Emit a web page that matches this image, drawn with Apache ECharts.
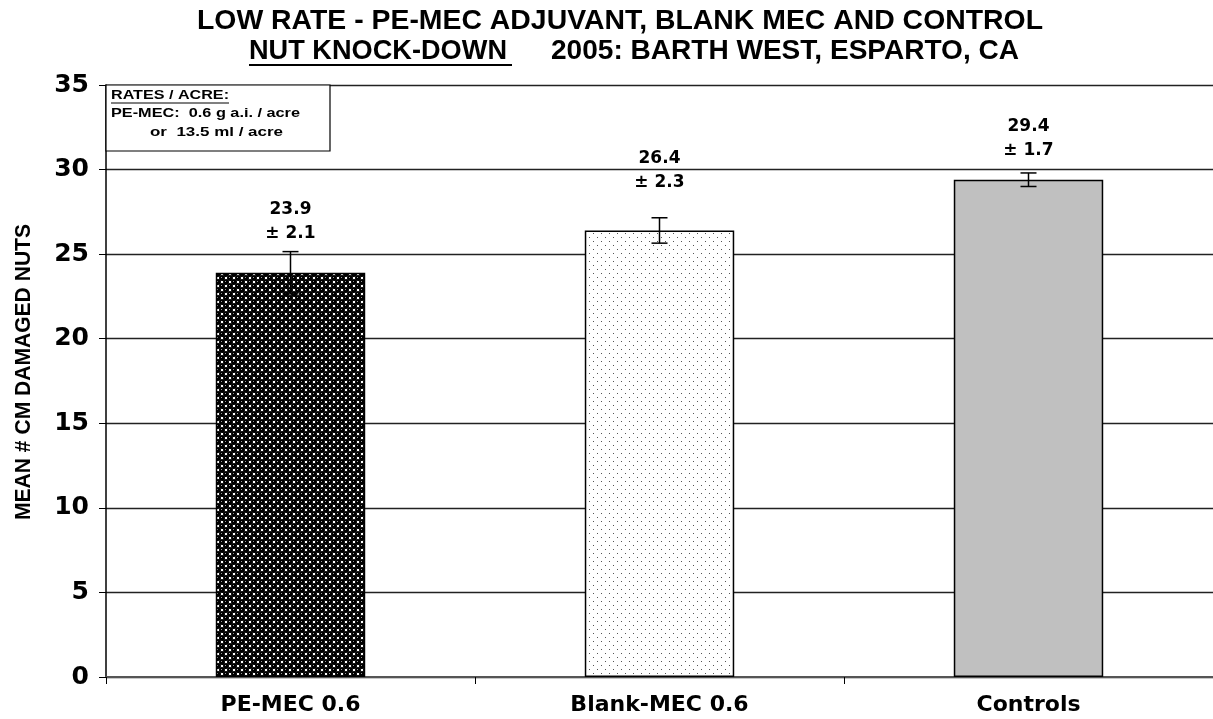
<!DOCTYPE html>
<html>
<head>
<meta charset="utf-8">
<script src="https://cdn.jsdelivr.net/npm/echarts@6/dist/echarts.min.js"></script>
<style>
    html, body { margin: 0; padding: 0; background: #fff; }
    #chart { width: 1213px; height: 719px; }
</style>
</head>
<body>
<div id="chart"></div>
<script>
// data =====================================================================
var categories = ['PE-MEC 0.6', 'Blank-MEC 0.6', 'Controls'];
var means = [23.9, 26.4, 29.4];
var sdText = ['± 2.1', '± 2.3', '± 1.7'];   // printed above the bars
var errHalf = [1.25, 0.75, 0.4];           // error bar half height as drawn
var yTicks = [0, 5, 10, 15, 20, 25, 30, 35];

// per-bar label distance above the bar (style only)
var labelGap = [27, 36, 17];

// helpers ==================================================================
var measureCtx = document.createElement('canvas').getContext('2d');
function fitScale(text, font, width) {
    measureCtx.font = font;
    return width / measureCtx.measureText(text).width;
}

function makeTile(size, draw) {
    var c = document.createElement('canvas');
    c.width = size;
    c.height = size;
    draw(c.getContext('2d'));
    return c;
}

var ballTile = makeTile(8, function(ctx) {
    ctx.fillStyle = '#fff';
    ctx.fillRect(0, 0, 8, 8);
    ctx.fillStyle = '#000';
    [[2, 2], [6, 6], [6, -2], [-2, 6], [10, 2], [2, 10], [10, 10], [-2, -2]].forEach(function(p) {
        ctx.beginPath();
        ctx.arc(p[0], p[1], 3, 0, Math.PI * 2);
        ctx.fill();
    });
    ctx.fillStyle = '#999';
    ctx.fillRect(1, 1, 1, 1);
    ctx.fillRect(5, 5, 1, 1);
});

var dotTile = makeTile(8, function(ctx) {
    ctx.fillStyle = '#fff';
    ctx.fillRect(0, 0, 8, 8);
    ctx.fillStyle = '#555';
    ctx.fillRect(1, 1, 1, 1);
    ctx.fillRect(5, 5, 1, 1);
});

var fills = [
    { image: ballTile, repeat: 'repeat' },
    { image: dotTile, repeat: 'repeat' },
    '#c0c0c0'
];

// chart ====================================================================
var chart = echarts.init(document.getElementById('chart'));

var barData = means.map(function(v, i) {
    return {
        value: v,
        itemStyle: { color: fills[i] },
        label: { distance: labelGap[i] }
    };
});

var errData = means.map(function(v, i) {
    return [i, v - errHalf[i], v + errHalf[i]];
});

var arial = 'Liberation Sans, Arial, sans-serif';
var wide = 'DejaVu Sans, Verdana, sans-serif';

var titleFont = 'bold 28px ' + arial;
var boxFont = 'bold 12px ' + arial;

function label(text, x, y, font, width, extra) {
    var o = {
        type: 'text', x: x, y: y, z: 11,
        scaleX: width ? fitScale(text, font, width) : 1,
        style: { text: text, font: font, fill: '#000', verticalAlign: 'middle' }
    };
    return Object.assign(o, extra || {});
}

var option = {
    backgroundColor: '#fff',
    animation: false,
    grid: { left: 106, top: 85, width: 1112, height: 592 },
    xAxis: {
        type: 'category',
        data: categories,
        axisLine: { lineStyle: { color: '#555', width: 2 } },
        axisTick: { show: true, length: 7, lineStyle: { color: '#000' } },
        axisLabel: { color: '#000', fontWeight: 'bold', fontSize: 22, fontFamily: wide, margin: 17 }
    },
    yAxis: {
        type: 'value',
        min: 0,
        max: 35,
        interval: 5,
        axisLine: { show: true, lineStyle: { color: '#000', width: 1.5 } },
        axisTick: { show: true, length: 7, lineStyle: { color: '#000' } },
        axisLabel: {
            color: '#000', fontWeight: 'bold', fontSize: 25, fontFamily: wide, margin: 17,
            formatter: function(v) { return yTicks.indexOf(v) >= 0 ? v : ''; }
        },
        splitLine: { lineStyle: { color: '#222', width: 1.3 } }
    },
    series: [
        {
            type: 'bar',
            data: barData,
            barWidth: '40.5%',
            itemStyle: { borderColor: '#000', borderWidth: 1.5 },
            label: {
                show: true,
                position: 'top',
                color: '#000',
                fontWeight: 'bold',
                fontSize: 17,
                fontFamily: wide,
                lineHeight: 24,
                formatter: function(p) {
                    return p.value.toFixed(1) + '\n' + sdText[p.dataIndex];
                }
            },
            z: 2
        },
        {
            type: 'custom',
            data: errData,
            z: 5,
            renderItem: function(params, api) {
                var x = api.value(0);
                var lo = api.coord([x, api.value(1)]);
                var hi = api.coord([x, api.value(2)]);
                var w = 8;
                var st = { stroke: '#000', lineWidth: 1.5 };
                return {
                    type: 'group',
                    children: [
                        { type: 'line', shape: { x1: hi[0], y1: hi[1], x2: lo[0], y2: lo[1] }, style: st },
                        { type: 'line', shape: { x1: hi[0] - w, y1: hi[1], x2: hi[0] + w, y2: hi[1] }, style: st },
                        { type: 'line', shape: { x1: lo[0] - w, y1: lo[1], x2: lo[0] + w, y2: lo[1] }, style: st }
                    ]
                };
            }
        }
    ],
    graphic: [
        label('LOW RATE - PE-MEC ADJUVANT, BLANK MEC AND CONTROL', 197, 21, titleFont, 846),
        label('NUT KNOCK-DOWN', 249, 51, titleFont, 258),
        label('2005: BARTH WEST, ESPARTO, CA', 551, 51, titleFont, 468),
        {
            type: 'line', shape: { x1: 249, y1: 65, x2: 512, y2: 65 },
            style: { stroke: '#000', lineWidth: 2 }
        },
        // y axis title
        {
            type: 'text', x: 24, y: 372, rotation: Math.PI / 2,
            style: {
                text: 'MEAN # CM DAMAGED NUTS', font: 'bold 22px ' + arial, fill: '#000',
                align: 'center', verticalAlign: 'middle'
            },
            scaleX: fitScale('MEAN # CM DAMAGED NUTS', 'bold 22px ' + arial, 296)
        },
        // rates box
        {
            type: 'rect', shape: { x: 106, y: 85, width: 224, height: 66 },
            style: { fill: '#fff', stroke: '#000', lineWidth: 1.2 }, z: 10
        },
        label('RATES / ACRE:', 111, 96, boxFont, 118),
        {
            type: 'line', shape: { x1: 111, y1: 103, x2: 229, y2: 103 }, z: 11,
            style: { stroke: '#000', lineWidth: 1 }
        },
        label('PE-MEC:  0.6 g a.i. / acre', 111, 114, boxFont, 189),
        label('or  13.5 ml / acre', 150, 133, boxFont, 133)
    ]
};

chart.setOption(option);
</script>
</body>
</html>
